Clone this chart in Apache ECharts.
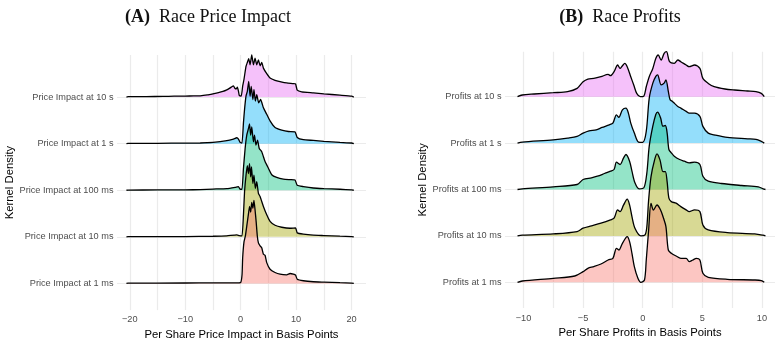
<!DOCTYPE html>
<html>
<head>
<meta charset="utf-8">
<script src="https://cdn.jsdelivr.net/npm/echarts@6/dist/echarts.min.js"></script>
<style>
  html, body { margin: 0; padding: 0; background: #fff; }
  #chart { width: 775px; height: 345px; }
</style>
</head>
<body>
<div id="chart"></div>
<script>
// ridge names, bottom ridge first
const impactLabels = ['Price Impact at 1 ms', 'Price Impact at 10 ms', 'Price Impact at 100 ms', 'Price Impact at 1 s', 'Price Impact at 10 s'];
const profitLabels = ['Profits at 1 ms', 'Profits at 10 ms', 'Profits at 100 ms', 'Profits at 1 s', 'Profits at 10 s'];
const ridgeColors = ['#F8766D', '#A3A500', '#00BF7D', '#00B0F6', '#E76BF3'];

const impactTicks = [-20, -10, 0, 10, 20];
const impactGrid = [-20, -15, -10, -5, 0, 5, 10, 15, 20];
const profitTicks = [-10, -5, 0, 5, 10];
const profitGrid = [-10, -7.5, -5, -2.5, 0, 2.5, 5, 7.5, 10];

// kernel density (arbitrary units) as [basis points, density]
const impact1ms = [[-20.6,0],[-20.3,0.3],[-10,0.4],[-5,0.5],[-1,0.6],[0,1],[0.25,9],[0.36,26],[0.6,42],[0.85,48],[1.1,58],[1.4,70],[1.6,78],[1.8,72],[2.0,82],[2.2,76],[2.4,84],[2.6,74],[2.8,62],[3.0,48],[3.2,41],[3.5,38],[3.8,36],[4.1,29.5],[4.4,28.5],[4.7,21],[5.3,14.3],[6.2,11],[7.1,9.3],[8.3,8.7],[8.9,10],[9.5,9.3],[9.9,8.3],[10.2,4.3],[11.3,2.7],[13.1,1.7],[15,1.3],[17.9,0.7],[20,0.3],[20.4,0]];
const impact10ms = [[-20.6,0],[-20.3,0.2],[-10,0.3],[-5,0.6],[-2.5,1],[-0.7,2],[-0.25,1.3],[0.24,1],[0.5,22],[0.7,45.7],[0.96,62],[1.2,72],[1.4,64],[1.6,74],[1.8,60.7],[1.95,70.7],[2.2,54],[2.4,62.3],[2.65,49],[2.9,55.7],[3.2,44],[3.5,40.7],[4.1,30.7],[4.7,22.3],[5.3,15.7],[6.2,11.7],[7.4,9.7],[8.9,8.7],[9.9,9],[10.2,4],[11.3,2.7],[13.1,1.7],[15,1.3],[17.9,0.7],[20,0.3],[20.4,0]];
const impact100ms = [[-20.6,0],[-20.3,0.2],[-15,0.3],[-10,0.4],[-7.3,0.7],[-5,1.2],[-2.5,1.7],[-1,3],[-0.4,3.7],[-0.1,1],[0.24,1],[0.5,22],[0.8,42],[1.1,55.7],[1.4,62.3],[1.6,67],[1.8,55.7],[2.0,64],[2.3,49],[2.5,55.7],[2.75,45.7],[3.05,50.7],[3.35,42.3],[3.8,39],[4.4,29],[5.0,22.3],[5.6,15.7],[6.5,13],[7.7,11.3],[8.9,10.7],[9.8,10.3],[10.2,5],[11.3,3.7],[13.1,2.3],[15,1.7],[17.9,1],[20,0.3],[20.4,0]];
const impact1s = [[-20.6,0],[-20.3,0.3],[-15,0.4],[-10,0.6],[-7.3,0.7],[-5,1.3],[-2.5,3],[-1.3,4.7],[-0.7,6],[-0.4,4.7],[-0.1,1.3],[0.24,0.7],[0.5,21],[0.7,34.7],[0.96,48],[1.2,53],[1.45,63],[1.7,48],[1.9,58],[2.2,44.7],[2.4,54.7],[2.65,43],[2.9,49.7],[3.25,41.3],[3.6,44.7],[4.1,36.3],[4.7,29.7],[5.3,23],[6.2,16.3],[7.4,13.7],[8.6,12.3],[9.8,12],[10.2,6.3],[11.3,4],[13.1,3.3],[15,2.3],[17.9,1.3],[20,0.7],[20.4,0]];
const impact10s = [[-20.6,0],[-20.3,0.4],[-17,0.5],[-14,0.7],[-12,0.9],[-10,1],[-8.5,1.2],[-7.3,1.3],[-6,2.2],[-5,3.3],[-4,4.5],[-3.2,5.7],[-2.6,7],[-1.9,9.3],[-1.6,10.5],[-1.3,11.3],[-1.05,9],[-0.8,8.3],[-0.6,10],[-0.4,6],[-0.25,1.7],[0.1,1],[0.36,11],[0.6,18],[0.96,31],[1.2,35],[1.45,39],[1.7,32.7],[2.0,42.7],[2.3,32.7],[2.6,39.3],[2.9,32.7],[3.2,37.7],[3.5,31.7],[3.8,35],[4.1,29.3],[4.7,23.7],[5.3,19.3],[6.2,17],[7.1,15.7],[8.3,14.3],[9.5,13.7],[9.9,13.3],[10.2,7],[11,5.3],[13.1,4.3],[15,3.3],[17.9,2],[20,1],[20.4,0]];

const profit1ms = [[-10.5,0],[-10.1,1.3],[-7.5,4],[-5.7,6.3],[-5,10.7],[-4.6,14],[-4.1,15.7],[-3.5,18.3],[-2.9,22.3],[-2.5,24],[-2.2,34],[-2.0,32.3],[-1.7,39],[-1.3,45.7],[-1.1,40.7],[-0.9,29],[-0.7,15.7],[-0.4,4],[-0.15,0],[0.15,2.3],[0.3,22.3],[0.5,52.3],[0.7,79],[0.9,72.3],[1.2,77.3],[1.5,72.3],[1.75,64],[1.95,55.7],[2.15,32.3],[2.4,29],[2.8,26.3],[3.2,24],[3.65,24],[3.9,20.7],[4.2,22.3],[4.5,24],[4.8,22.3],[5.05,9],[5.5,5],[7.1,3],[9.4,2.3],[9.95,1.7],[10.2,0]];
const profit10ms = [[-10.5,0],[-10.1,0.7],[-7.5,2],[-5.5,4.3],[-5,7.7],[-4.3,10],[-3.5,12.7],[-2.7,16],[-2.4,17.7],[-2.1,26],[-1.9,24.3],[-1.6,31],[-1.3,36.7],[-1.1,31],[-0.9,19.3],[-0.65,7.7],[-0.15,0],[0.2,1],[0.35,9.3],[0.5,36],[0.7,59.3],[1.0,76],[1.2,82],[1.45,76],[1.7,64.3],[1.9,64.3],[2.05,54.3],[2.2,37.7],[2.4,34.3],[2.8,32.7],[3.2,29.3],[3.65,26],[3.9,24.3],[4.35,26],[4.8,24.3],[5.05,11],[5.5,6],[7.1,3.3],[9.4,2],[10.1,0.7],[10.3,0]];
const profit100ms = [[-10.5,0],[-10.1,0.7],[-7.5,2.7],[-5.5,5],[-5,10],[-4.3,11.7],[-3.8,13.3],[-3.2,16],[-2.7,18.3],[-2.4,20],[-2.2,27.3],[-1.9,25],[-1.6,31.7],[-1.4,35],[-1.1,28.3],[-0.9,18.3],[-0.65,6.7],[-0.3,0.7],[0.1,1.7],[0.35,16.7],[0.55,43.3],[0.85,63.3],[1.1,75],[1.25,77.3],[1.5,71.7],[1.7,63.3],[1.9,64],[2.05,56.7],[2.2,40],[2.4,36.7],[2.65,33.3],[3.1,30],[3.5,28.3],[3.9,26.7],[4.35,27.3],[4.8,25],[5.05,13.3],[5.5,8.3],[6.6,6],[8.3,4],[9.7,2.7],[10.1,0.7],[10.3,0]];
const profit1s = [[-10.5,0],[-10.1,1],[-7.5,3.3],[-6.3,5],[-5.5,6.7],[-5,10],[-4.5,12.3],[-3.9,13.3],[-3.4,15.7],[-2.8,18.3],[-2.5,20],[-2.2,28.3],[-2.0,25.7],[-1.7,33.3],[-1.4,35],[-1.2,30],[-1.0,20],[-0.7,10],[-0.35,1],[0,0.7],[0.3,11.7],[0.55,45],[0.85,60],[1.1,66.7],[1.25,68.3],[1.55,58.3],[1.8,60],[1.95,63.3],[2.15,51.7],[2.3,43.3],[2.5,41.7],[2.65,40],[2.95,36.7],[3.2,35],[3.65,31.7],[3.9,30],[4.35,30],[4.8,26.7],[5.05,16.7],[5.5,10],[6,8.3],[7.1,5.7],[8.8,4.3],[9.5,3.7],[9.95,1.7],[10.2,0]];
const profit10s = [[-10.5,0],[-10.1,1.7],[-9.1,2.7],[-7.5,4],[-6.3,5],[-5.5,8.3],[-5,15],[-4.6,17.7],[-4.1,18.3],[-3.5,20],[-2.9,22.3],[-2.7,21],[-2.4,25],[-2.1,31.7],[-1.9,28.3],[-1.7,31],[-1.5,33.3],[-1.3,30],[-1.0,20],[-0.75,11.7],[-0.5,3.3],[-0.2,0],[0.1,0.7],[0.3,10],[0.55,20],[0.85,28.3],[1.1,38.3],[1.3,41.7],[1.55,36.7],[1.8,43.3],[2.0,45],[2.25,35],[2.65,33.3],[2.95,36.7],[3.2,35],[3.65,31.7],[3.9,30],[4.35,31.7],[4.8,28.3],[5.05,18.3],[5.5,13.3],[6.0,10],[6.9,7.7],[7.7,6.7],[8.8,5.7],[9.5,5],[9.95,3.3],[10.2,0]];

const impactRidges = [impact1ms, impact10ms, impact100ms, impact1s, impact10s];
const profitRidges = [profit1ms, profit10ms, profit100ms, profit1s, profit10s];

const chart = echarts.init(document.getElementById('chart'));

const labelFont = 'Liberation Sans';
const gridLine = { show: true, lineStyle: { color: '#EBEBEB', width: 1.2 } };
const minus = v => String(v).replace('-', '\u2212');

function ridgeSeries(ridges, axis, heightScale, smooth) {
  // top ridge first so lower ridges are painted over it, like ggridges
  const out = [];
  for (let k = ridges.length - 1; k >= 0; k--) {
    out.push({
      type: 'line',
      xAxisIndex: axis,
      yAxisIndex: axis,
      data: ridges[k].map(p => [p[0], k + p[1] * heightScale]),
      showSymbol: false,
      smooth: smooth,
      clip: false,
      silent: true,
      lineStyle: { color: '#000', width: 1.3 },
      areaStyle: { origin: k, color: ridgeColors[k], opacity: 0.42 },
      z: 2
    });
  }
  return out;
}

function xAxis(grid, min, max, ticks, lines, name, margin, gap) {
  return {
    type: 'value', gridIndex: grid, min: min, max: max,
    axisLine: { show: false },
    axisTick: { show: false, customValues: lines },
    axisLabel: { customValues: ticks, formatter: minus, color: '#4D4D4D', fontFamily: labelFont, fontSize: 9.2, margin: margin },
    splitLine: gridLine,
    name: name, nameLocation: 'middle', nameGap: gap,
    nameTextStyle: { color: '#000', fontFamily: labelFont, fontSize: 11.3 }
  };
}

function yAxis(grid, min, max, labels, gap) {
  return {
    type: 'value', gridIndex: grid, min: min, max: max,
    axisLine: { show: false },
    axisTick: { show: false, customValues: [0, 1, 2, 3, 4] },
    axisLabel: { customValues: [0, 1, 2, 3, 4], formatter: v => labels[Math.round(v)], color: '#4D4D4D', fontFamily: labelFont, fontSize: 9.2, margin: 3.5 },
    splitLine: gridLine,
    name: 'Kernel Density', nameLocation: 'middle', nameGap: gap,
    nameTextStyle: { color: '#000', fontFamily: labelFont, fontSize: 11.3 }
  };
}

const titleStyle = {
  fontFamily: 'Liberation Serif', fontSize: 18, fontWeight: 'normal', color: '#111',
  rich: { b: { fontFamily: 'Liberation Serif', fontSize: 18, fontWeight: 'bold', color: '#111' } }
};

chart.setOption({
  animation: false,
  backgroundColor: '#fff',
  title: [
    { text: '{b|(A)}  Race Price Impact', left: 203, top: 3, textAlign: 'center', textStyle: titleStyle },
    { text: '{b|(B)}  Race Profits', left: 615, top: 3, textAlign: 'center', textStyle: titleStyle }
  ],
  grid: [
    { left: 117, top: 55, width: 249, height: 258 },
    { left: 505, top: 51.7, width: 270, height: 256.3 }
  ],
  xAxis: [
    xAxis(0, -22.3, 22.6, impactTicks, impactGrid, 'Per Share Price Impact in Basis Points', 5, 16),
    xAxis(1, -11.55, 11.1, profitTicks, profitGrid, 'Per Share Profits in Basis Points', 5.5, 17.5)
  ],
  yAxis: [
    yAxis(0, -0.573, 4.904, impactLabels, 102),
    yAxis(1, -0.554, 4.97, profitLabels, 75)
  ],
  series: [].concat(
    ridgeSeries(impactRidges, 0, 1 / 47.1, 0.15),
    ridgeSeries(profitRidges, 1, 1 / 46.4, 0.3)
  )
});
</script>
</body>
</html>
